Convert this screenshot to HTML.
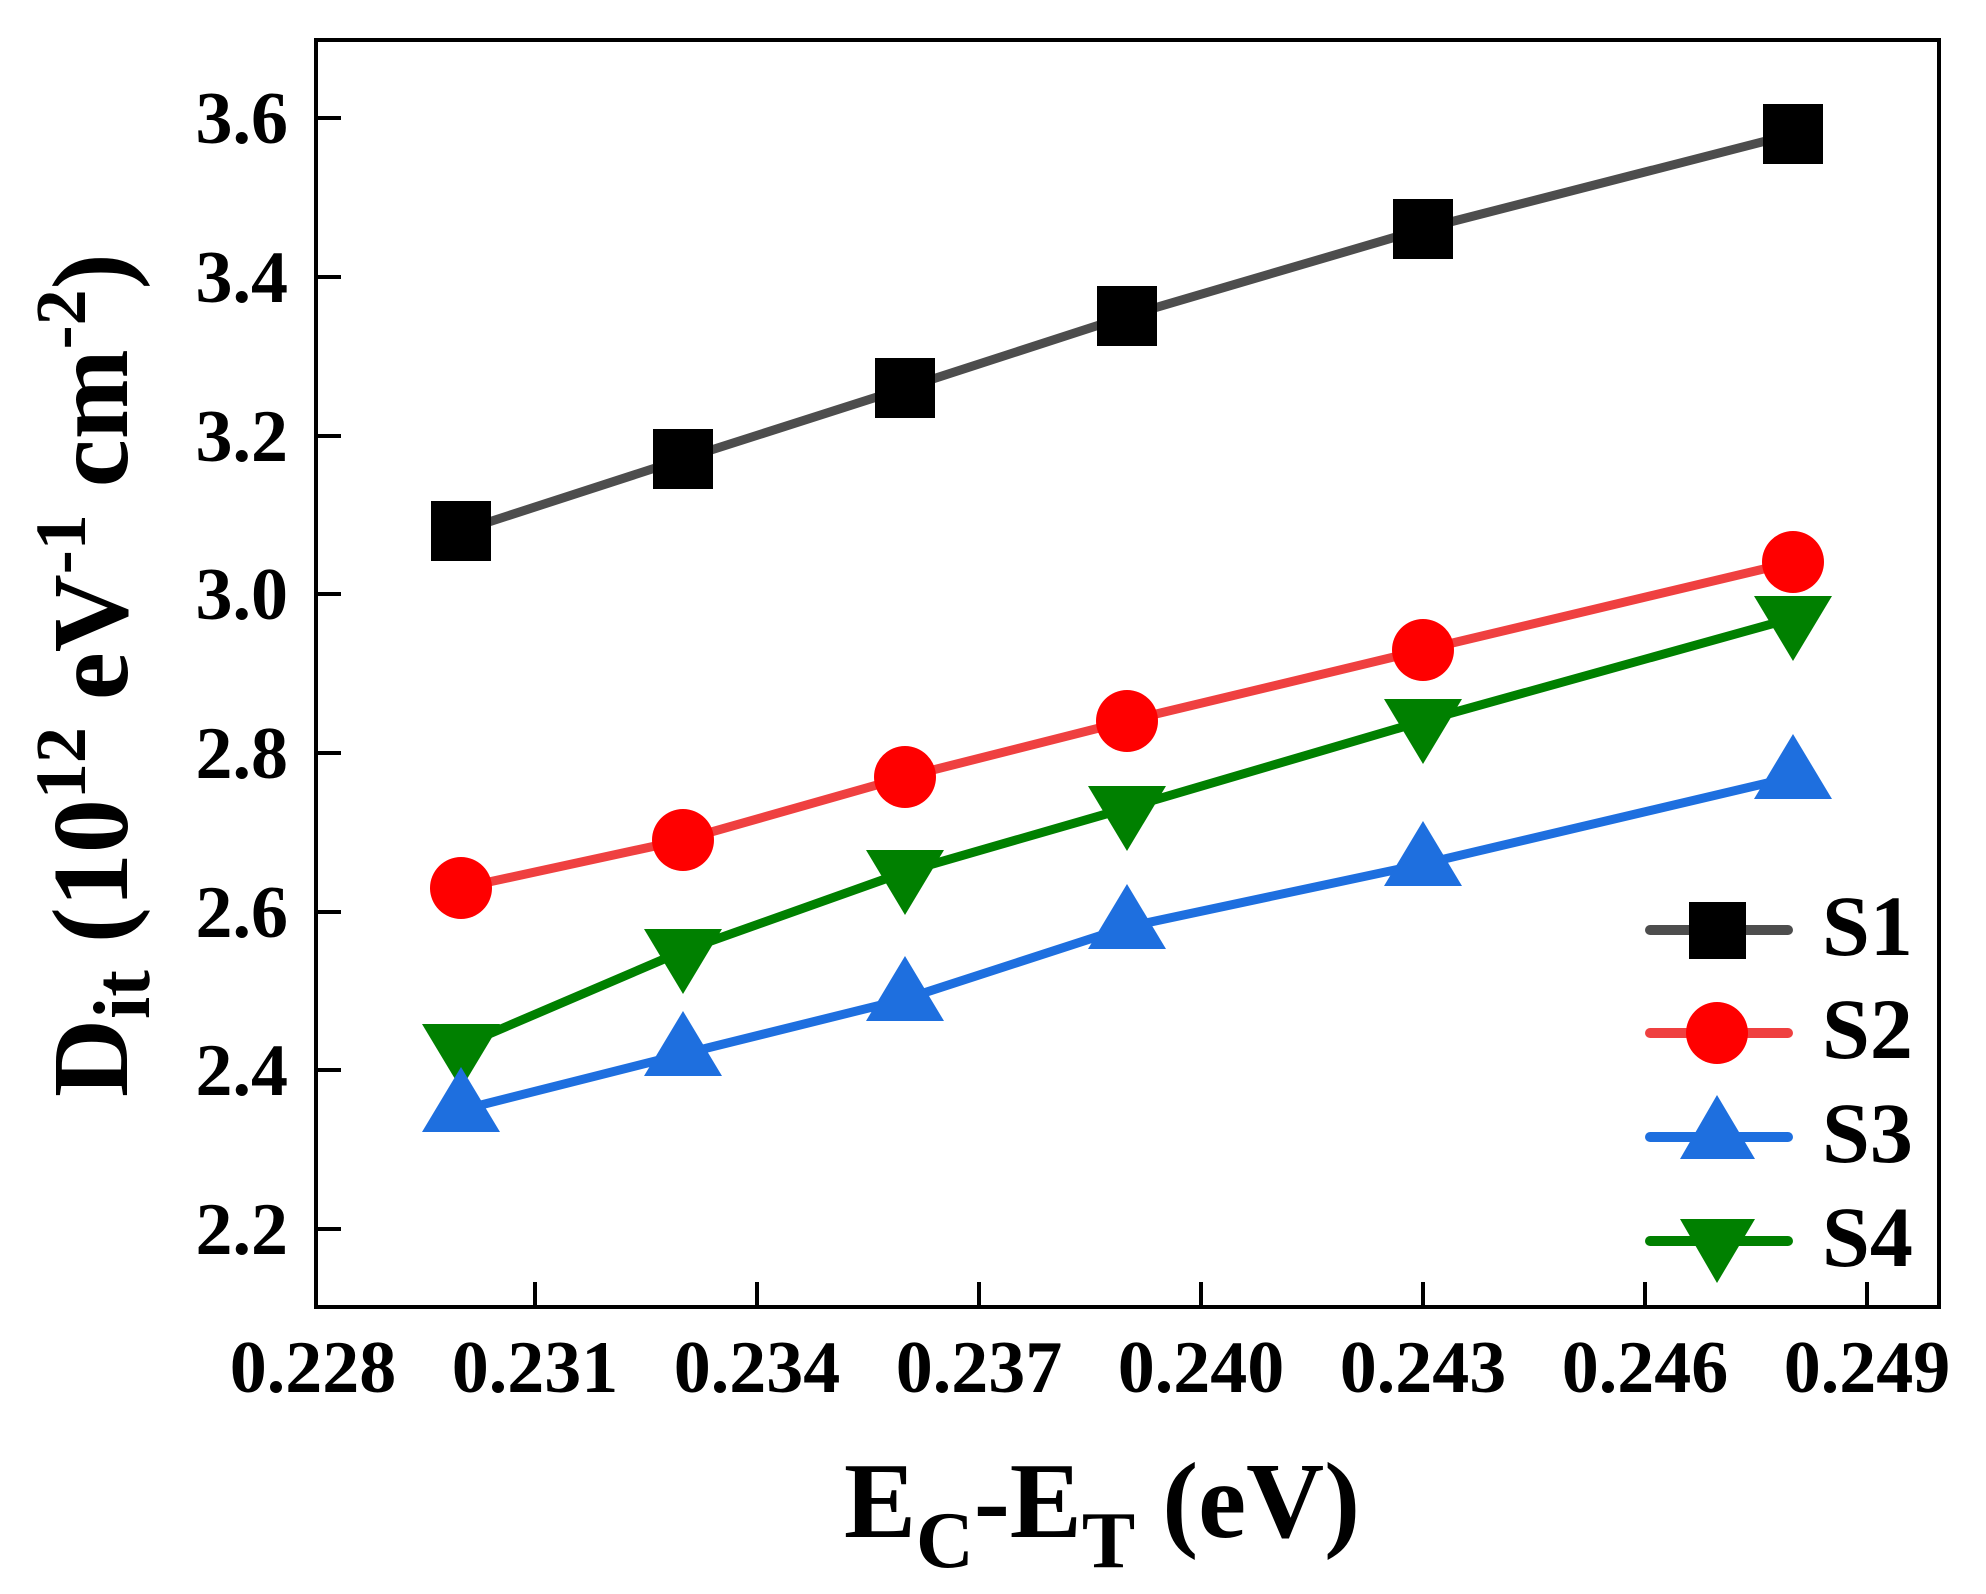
<!DOCTYPE html>
<html><head><meta charset="utf-8"><style>html,body{margin:0;padding:0;background:#fff}svg{display:block}</style></head>
<body>
<svg width="1986" height="1594" viewBox="0 0 1986 1594" xmlns="http://www.w3.org/2000/svg" font-family="Liberation Serif, serif" font-weight="bold">
<rect width="1986" height="1594" fill="#fff"/>
<g stroke="#000" stroke-width="4" fill="none">
<rect x="316" y="40" width="1623" height="1267"/>
<path d="M316 118h25M316 277h25M316 436h25M316 594h25M316 753h25M316 912h25M316 1070h25M316 1229h25"/>
<path d="M535 1307v-25M757 1307v-25M979 1307v-25M1201 1307v-25M1423 1307v-25M1645 1307v-25M1867 1307v-25"/>
</g>
<g font-size="74" text-anchor="end">
<text x="288" y="143">3.6</text><text x="288" y="302">3.4</text><text x="288" y="461">3.2</text><text x="288" y="619">3.0</text><text x="288" y="778">2.8</text><text x="288" y="937">2.6</text><text x="288" y="1095">2.4</text><text x="288" y="1254">2.2</text>
</g>
<g font-size="74" text-anchor="middle">
<text x="313" y="1392">0.228</text><text x="535" y="1392">0.231</text><text x="757" y="1392">0.234</text><text x="979" y="1392">0.237</text><text x="1201" y="1392">0.240</text><text x="1423" y="1392">0.243</text><text x="1645" y="1392">0.246</text><text x="1867" y="1392">0.249</text>
</g>
<text x="844" y="1537" font-size="108">E<tspan font-size="80" dy="30">C</tspan><tspan dy="-30">-E</tspan><tspan font-size="80" dy="30">T</tspan><tspan dy="-30"> (eV)</tspan></text>
<text transform="translate(127,1097) rotate(-90)" font-size="108">D<tspan font-size="80" dy="22">it</tspan><tspan dy="-22"> (10</tspan><tspan font-size="72" dy="-42">12</tspan><tspan dy="42"> eV</tspan><tspan font-size="72" dy="-42">-1</tspan><tspan dy="42"> cm</tspan><tspan font-size="72" dy="-42">-2</tspan><tspan dy="42">)</tspan></text>
<!-- S1 -->
<polyline fill="none" stroke="#4d4d4d" stroke-width="9" points="461,531 683,459 905,388 1127,316 1423,229 1793,134"/>
<g fill="#000">
<rect x="431" y="501" width="60" height="60"/><rect x="653" y="429" width="60" height="60"/><rect x="875" y="358" width="60" height="60"/><rect x="1097" y="286" width="60" height="60"/><rect x="1393" y="199" width="60" height="60"/><rect x="1763" y="104" width="60" height="60"/>
</g>
<!-- S2 -->
<polyline fill="none" stroke="#ef4040" stroke-width="9" points="461,888 683,840 905,777 1127,721 1423,650 1793,562"/>
<g fill="#f00">
<circle cx="461" cy="888" r="31"/><circle cx="683" cy="840" r="31"/><circle cx="905" cy="777" r="31"/><circle cx="1127" cy="721" r="31"/><circle cx="1423" cy="650" r="31"/><circle cx="1793" cy="562" r="31"/>
</g>
<!-- S4 -->
<polyline fill="none" stroke="#008000" stroke-width="9" points="461,1046 683,951 905,872 1127,808 1423,721 1793,618"/>
<g fill="#008000">
<polygon points="422,1024 500,1024 461,1089"/><polygon points="644,929 722,929 683,994"/><polygon points="866,850 944,850 905,915"/><polygon points="1088,786 1166,786 1127,851"/><polygon points="1384,699 1462,699 1423,764"/><polygon points="1754,596 1832,596 1793,661"/>
</g>
<!-- S3 -->
<polyline fill="none" stroke="#1e6fdf" stroke-width="9" points="461,1110 683,1054 905,999 1127,927 1423,864 1793,777"/>
<g fill="#1e6fdf">
<polygon points="422,1132 500,1132 461,1067"/><polygon points="644,1076 722,1076 683,1011"/><polygon points="866,1021 944,1021 905,956"/><polygon points="1088,949 1166,949 1127,884"/><polygon points="1384,886 1462,886 1423,821"/><polygon points="1754,799 1832,799 1793,734"/>
</g>
<!-- legend -->
<g stroke-width="10" stroke-linecap="round">
<line x1="1650" y1="930" x2="1788" y2="930" stroke="#4d4d4d"/>
<line x1="1650" y1="1033" x2="1788" y2="1033" stroke="#ef4040"/>
<line x1="1650" y1="1137" x2="1788" y2="1137" stroke="#1e6fdf"/>
<line x1="1650" y1="1241" x2="1788" y2="1241" stroke="#008000"/>
</g>
<rect x="1689" y="902" width="57" height="57" fill="#000"/>
<circle cx="1717" cy="1033" r="31" fill="#f00"/>
<polygon points="1680,1159 1755,1159 1717,1095" fill="#1e6fdf"/>
<polygon points="1680,1219 1755,1219 1717,1283" fill="#008000"/>
<g font-size="86">
<text x="1822" y="955">S1</text><text x="1822" y="1058">S2</text><text x="1822" y="1162">S3</text><text x="1822" y="1266">S4</text>
</g>
</svg>
</body></html>
